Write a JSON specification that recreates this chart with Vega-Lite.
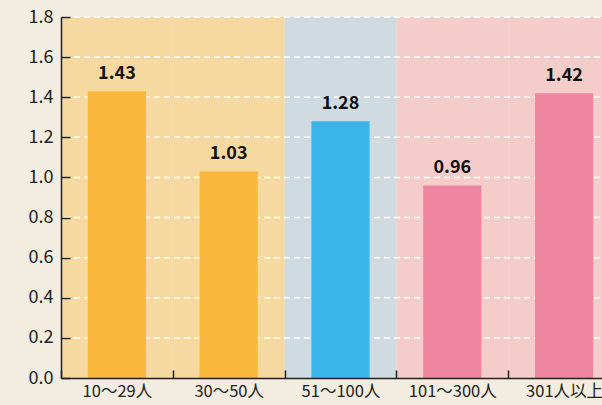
{
  "$schema": "https://vega.github.io/schema/vega-lite/v6.json",
  "width": 559,
  "height": 361,
  "autosize": "none",
  "padding": {"left": 61, "top": 17, "right": 0, "bottom": 27},
  "background": "#f2ece1",
  "config": {"view": {"stroke": null}, "font": "Noto Sans CJK JP"},
  "data": {
    "values": [
      {"cat": "10〜29人", "value": 1.43, "group": "small"},
      {"cat": "30〜50人", "value": 1.03, "group": "small"},
      {"cat": "51〜100人", "value": 1.28, "group": "mid"},
      {"cat": "101〜300人", "value": 0.96, "group": "large"},
      {"cat": "301人以上", "value": 1.42, "group": "large"}
    ]
  },
  "resolve": {"scale": {"color": "independent"}},
  "layer": [
    {
      "mark": {"type": "bar"},
      "encoding": {
        "x": {
          "field": "cat", "type": "nominal", "sort": null,
          "scale": {"paddingInner": 0, "paddingOuter": 0},
          "axis": {
            "title": null, "tickBand": "extent", "tickSize": -8, "tickWidth": 1.5,
            "tickColor": "#222", "domainColor": "#222", "domainWidth": 1.5, "zindex": 1,
            "labelAngle": 0, "labelFontSize": 16.5, "labelColor": "#222", "labelPadding": 13
          }
        },
        "y": {
          "datum": 1.8, "type": "quantitative",
          "scale": {"domain": [0, 1.8], "nice": false},
          "axis": {
            "title": null, "grid": false, "zindex": 1,
            "values": [0, 0.2, 0.4, 0.6, 0.8, 1.0, 1.2, 1.4, 1.6, 1.8],
            "format": ".1f", "tickSize": -9, "tickWidth": 1.5, "tickColor": "#222",
            "domainColor": "#222", "domainWidth": 1.5,
            "labelFontSize": 18, "labelColor": "#222", "labelPadding": 17
          }
        },
        "color": {
          "field": "group", "type": "nominal", "legend": null,
          "scale": {"domain": ["small", "mid", "large"], "range": ["#f6d9a1", "#cfdbe0", "#f4cdca"]}
        }
      }
    },
    {
      "data": {"values": [{"g": 0.2}, {"g": 0.4}, {"g": 0.6}, {"g": 0.8}, {"g": 1.0}, {"g": 1.2}, {"g": 1.4}, {"g": 1.6}, {"g": 1.8}]},
      "mark": {"type": "rule", "color": "#ffffff", "strokeDash": [6, 4], "strokeWidth": 1.5},
      "encoding": {"y": {"field": "g", "type": "quantitative"}}
    },
    {
      "mark": {"type": "bar", "width": {"band": 0.52}},
      "encoding": {
        "x": {"field": "cat", "type": "nominal", "sort": null},
        "y": {"field": "value", "type": "quantitative"},
        "color": {
          "field": "group", "type": "nominal", "legend": null,
          "scale": {"domain": ["small", "mid", "large"], "range": ["#f9b73b", "#3bb4e9", "#ee86a1"]}
        }
      }
    },
    {
      "mark": {"type": "text", "fontWeight": "bold", "fontSize": 18, "baseline": "bottom", "dy": -8, "color": "#111"},
      "encoding": {
        "x": {"field": "cat", "type": "nominal", "sort": null},
        "y": {"field": "value", "type": "quantitative"},
        "text": {"field": "value", "type": "quantitative", "format": ".2f"}
      }
    }
  ]
}
